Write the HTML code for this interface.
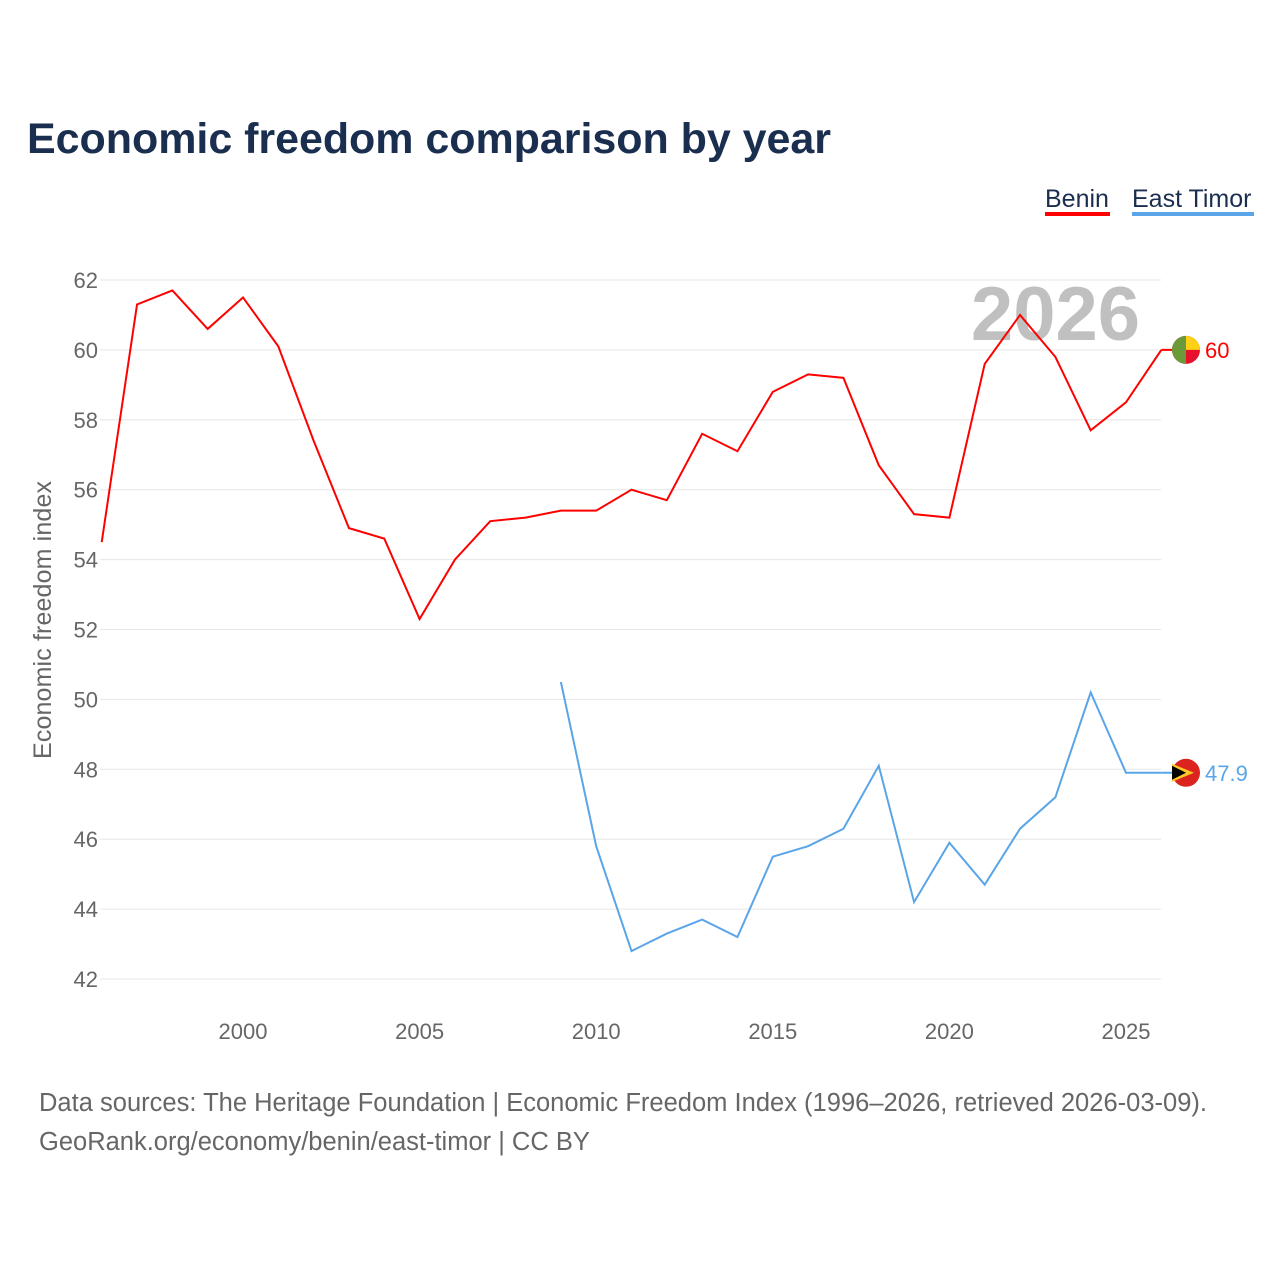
<!DOCTYPE html>
<html><head><meta charset="utf-8"><style>
body{margin:0;background:#fff;width:1280px;height:1280px;overflow:hidden;font-family:"Liberation Sans",sans-serif}
</style></head><body>
<svg width="1280" height="1280" id="chart" xmlns="http://www.w3.org/2000/svg" font-family="Liberation Sans, sans-serif">
<text x="27" y="153" font-size="43" font-weight="bold" fill="#1a2e4f" textLength="804">Economic freedom comparison by year</text>
<g><text x="1045" y="207" font-size="25" fill="#1a2e4f">Benin</text><rect x="1045" y="212" width="65" height="4" fill="#ff0000"/></g>
<g><text x="1132" y="207" font-size="25" fill="#1a2e4f">East Timor</text><rect x="1132" y="212" width="122" height="4" fill="#5aa5e8"/></g>
<text x="1140" y="340" font-size="76" font-weight="bold" fill="#c0c0c0" text-anchor="end">2026</text>
<g id="grid"></g><g id="yticks"></g><g id="xticks"></g><g id="lines"></g>
<text transform="translate(51,620) rotate(-90)" font-size="25" fill="#666" text-anchor="middle" textLength="278">Economic freedom index</text>
<text x="39" y="1111" font-size="25.5" fill="#666" textLength="1168">Data sources: The Heritage Foundation | Economic Freedom Index (1996–2026, retrieved 2026-03-09).</text>
<text x="39" y="1150" font-size="25.5" fill="#666">GeoRank.org/economy/benin/east-timor | CC BY</text>
</svg>
<script>
const years=[1996,1997,1998,1999,2000,2001,2002,2003,2004,2005,2006,2007,2008,2009,2010,2011,2012,2013,2014,2015,2016,2017,2018,2019,2020,2021,2022,2023,2024,2025,2026];
const benin=[54.5,61.3,61.7,60.6,61.5,60.1,57.4,54.9,54.6,52.3,54.0,55.1,55.2,55.4,55.4,56.0,55.7,57.6,57.1,58.8,59.3,59.2,56.7,55.3,55.2,59.6,61.0,59.8,57.7,58.5,60.0];
const timorYears=[2009,2010,2011,2012,2013,2014,2015,2016,2017,2018,2019,2020,2021,2022,2023,2024,2025,2026];
const timor=[50.5,45.8,42.8,43.3,43.7,43.2,45.5,45.8,46.3,48.1,44.2,45.9,44.7,46.3,47.2,50.2,47.9,47.9];
const yTicks=[42,44,46,48,50,52,54,56,58,60,62];
const xTicks=[2000,2005,2010,2015,2020,2025];
const NS="http://www.w3.org/2000/svg";
const x=v=>243+(v-2000)*35.32;
const y=v=>280+(62-v)*34.95;
function mk(t,a,p){const e=document.createElementNS(NS,t);for(const k in a)e.setAttribute(k,a[k]);p.appendChild(e);return e;}
const grid=document.getElementById('grid'),yt=document.getElementById('yticks'),xt=document.getElementById('xticks'),lines=document.getElementById('lines');
yTicks.forEach(v=>{
 const l=mk('line',{x1:100,x2:1161,y1:y(v),y2:y(v),stroke:'#e6e6e6','stroke-width':1},grid);
 
 
 const t=mk('text',{x:98,y:y(v)+8,'font-size':22,fill:'#666','text-anchor':'end'},yt);t.textContent=v;
 
 
});
xTicks.forEach(v=>{
 const t=mk('text',{x:x(v),y:1039,'font-size':22,fill:'#666','text-anchor':'middle'},xt);t.textContent=v;
 
 
});
const pb=mk('path',{d:benin.map((v,i)=>(i?'L':'M')+x(years[i])+','+y(v)).join(''),fill:'none',stroke:'#ff0000','stroke-width':2},lines);


const pt=mk('path',{d:timor.map((v,i)=>(i?'L':'M')+x(timorYears[i])+','+y(v)).join(''),fill:'none',stroke:'#5aa5e8','stroke-width':2},lines);


const bl=benin[benin.length-1],tl=timor[timor.length-1];
const fb=mk('g',{},lines);


const cx=1186,by=y(bl);
mk('line',{x1:x(2026),x2:cx,y1:by,y2:by,stroke:'#ff0000','stroke-width':2},fb);
mk('circle',{cx:cx,cy:by,r:14,fill:'#e8112d'},fb);
mk('path',{d:`M${cx},${by-14}A14,14 0 0 1 ${cx+14},${by}L${cx},${by}Z`,fill:'#fcd116'},fb);
mk('path',{d:`M${cx},${by-14}A14,14 0 0 0 ${cx},${by+14}Z`,fill:'#6a9a3a'},fb);
const lb=mk('text',{x:1205,y:by+8,'font-size':22,fill:'#ff0000'},fb);lb.textContent=bl;
const ft=mk('g',{},lines);


const ty=y(tl);
mk('line',{x1:x(2026),x2:cx,y1:ty,y2:ty,stroke:'#5aa5e8','stroke-width':2},ft);
mk('circle',{cx:cx,cy:ty,r:14,fill:'#dc241f'},ft);
mk('path',{d:`M${cx-14},${ty-9}L${cx+8},${ty}L${cx-14},${ty+9}Z`,fill:'#ffc726'},ft);
mk('path',{d:`M${cx-14},${ty-7}L${cx},${ty}L${cx-14},${ty+7}Z`,fill:'#000'},ft);
const lt=mk('text',{x:1205,y:ty+8,'font-size':22,fill:'#5aa5e8'},ft);lt.textContent=tl;
</script>
</body></html>
